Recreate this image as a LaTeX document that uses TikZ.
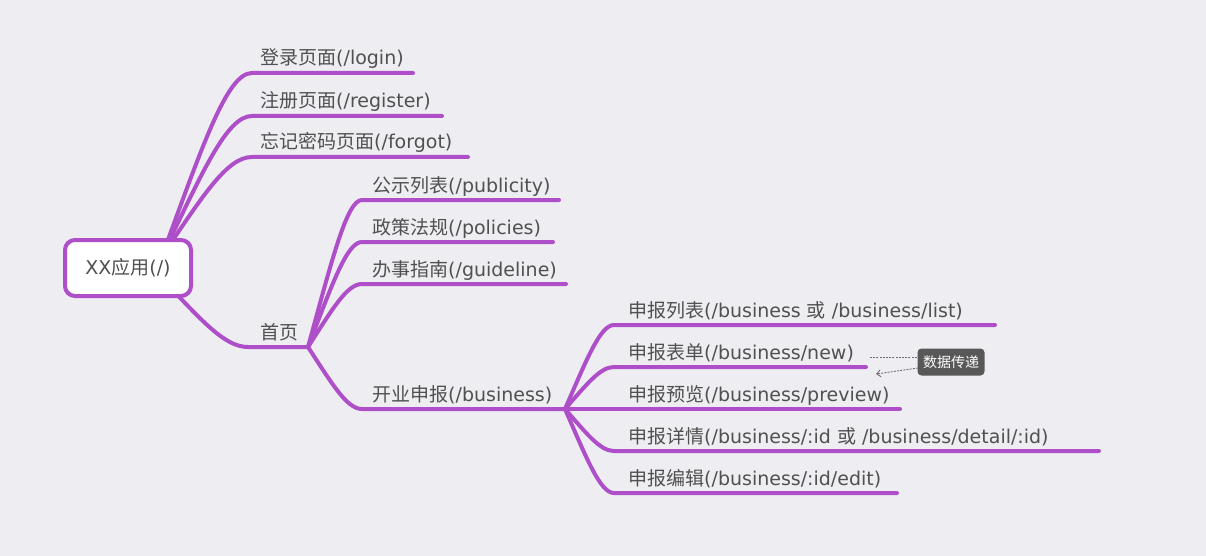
\documentclass[tikz,border=0pt]{standalone}
\usepackage{fontspec}
\setmainfont{DejaVu Sans}
\newfontfamily\cjk{Noto Sans CJK SC}
\usetikzlibrary{calc,arrows.meta}
\definecolor{bg}{RGB}{238,238,242}
\definecolor{mm}{RGB}{174,79,201}
\definecolor{tx}{RGB}{80,80,80}
\definecolor{notefill}{RGB}{88,88,88}
\definecolor{rel}{RGB}{110,110,110}
\tikzset{
  mmcurve/.style={to path={let \p1=(\tikztostart), \p2=(\tikztotarget) in
    .. controls ({\x1+0.45*(\x2-\x1)},{\y1+0.6*(\y2-\y1)}) and ({\x1+0.72*(\x2-\x1)},\y2) .. (\tikztotarget)}},
  br/.style={draw=mm, line width=4pt, line cap=round, line join=round},
  lbl/.style={anchor=base west, inner sep=0pt, text=tx, font=\fontsize{19}{22}\selectfont},
  rootbox/.style={draw=mm, fill=white, line width=4pt, rounded corners=10pt, minimum width=126pt, minimum height=56pt, inner sep=0pt, text=tx, font=\fontsize{19}{22}\selectfont},
  notebox/.style={fill=notefill, rounded corners=4pt, minimum width=67pt, minimum height=27pt, inner sep=0pt, text=white, font=\cjk\fontsize{14}{16}\selectfont},
  reld/.style={draw=rel, line width=0.9pt, dash pattern=on 2pt off 1.2pt}
}
\begin{document}
\begin{tikzpicture}[x=1pt,y=-1pt]
\fill[bg] (0,0) rectangle (1206,556);
\useasboundingbox (0,0) rectangle (1206,556);

% origins
\coordinate (rT) at (162,256);
\coordinate (rB) at (165,282);
\coordinate (home) at (308,347);
\coordinate (biz) at (565,409);

% level 1
\coordinate (loginS) at (252,73);   \coordinate (loginE) at (413,73);
\coordinate (regS) at (252,116);    \coordinate (regE) at (442,116);
\coordinate (forgotS) at (252,157); \coordinate (forgotE) at (468,157);
\coordinate (homeS) at (248,347);

\draw[br] (rT) to[mmcurve] (loginS) -- (loginE);
\draw[br] (rT) to[mmcurve] (regS) -- (regE);
\draw[br] (rT) to[mmcurve] (forgotS) -- (forgotE);
\draw[br] (rB) to[mmcurve] (homeS) -- (home);

% level 2
\coordinate (pubS) at (362,200); \coordinate (pubE) at (559,200);
\coordinate (polS) at (362,242); \coordinate (polE) at (553,242);
\coordinate (guiS) at (362,284); \coordinate (guiE) at (566,284);
\coordinate (bizS) at (362,409);

\draw[br] (home) to[mmcurve] (pubS) -- (pubE);
\draw[br] (home) to[mmcurve] (polS) -- (polE);
\draw[br] (home) to[mmcurve] (guiS) -- (guiE);
\draw[br] (home) to[mmcurve] (bizS) -- (biz);

% level 3
\coordinate (listS) at (614,325); \coordinate (listE) at (995,325);
\coordinate (newS) at (614,367);  \coordinate (newE) at (866,367);
\coordinate (prevE) at (900,409);
\coordinate (detS) at (614,451);  \coordinate (detE) at (1099,451);
\coordinate (editS) at (614,493); \coordinate (editE) at (897,493);

\draw[br] (biz) to[mmcurve] (listS) -- (listE);
\draw[br] (biz) to[mmcurve] (newS) -- (newE);
\draw[br] (biz) -- (prevE);
\draw[br] (biz) to[mmcurve] (detS) -- (detE);
\draw[br] (biz) to[mmcurve] (editS) -- (editE);

% root
\node[rootbox] (root) at (128,268) {XX{\cjk 应用}(/)};

% labels
\node[lbl] (tLogin) at (260,65) {{\cjk 登录页面}(/login)};
\node[lbl] (tReg) at (260,108) {{\cjk 注册页面}(/register)};
\node[lbl] (tForgot) at (260,149) {{\cjk 忘记密码页面}(/forgot)};
\node[lbl] (tHome) at (260,339) {{\cjk 首页}};

\node[lbl] (tPub) at (372,192) {{\cjk 公示列表}(/publicity)};
\node[lbl] (tPol) at (372,234) {{\cjk 政策法规}(/policies)};
\node[lbl] (tGui) at (372,276) {{\cjk 办事指南}(/guideline)};
\node[lbl] (tBiz) at (372,401) {{\cjk 开业申报}(/business)};

\node[lbl] (tList) at (628,317) {{\cjk 申报列表}(/business {\cjk 或} /business/list)};
\node[lbl] (tNew) at (628,359) {{\cjk 申报表单}(/business/new)};
\node[lbl] (tPrev) at (628,401) {{\cjk 申报预览}(/business/preview)};
\node[lbl] (tDet) at (628,443) {{\cjk 申报详情}(/business/:id {\cjk 或} /business/detail/:id)};
\node[lbl] (tEdit) at (628,485) {{\cjk 申报编辑}(/business/:id/edit)};

% relationship note
\node[notebox] (note) at (951,362) {数据传递};
\coordinate (relA) at (870,357);
\coordinate (relB) at (918,368);
\coordinate (relC) at (876,374);
\draw[reld] (relA) -- (note.west |- relA);
\draw[reld, -{Straight Barb[length=4pt,width=7pt]}] (relB) -- (relC);
\end{tikzpicture}
\end{document}
